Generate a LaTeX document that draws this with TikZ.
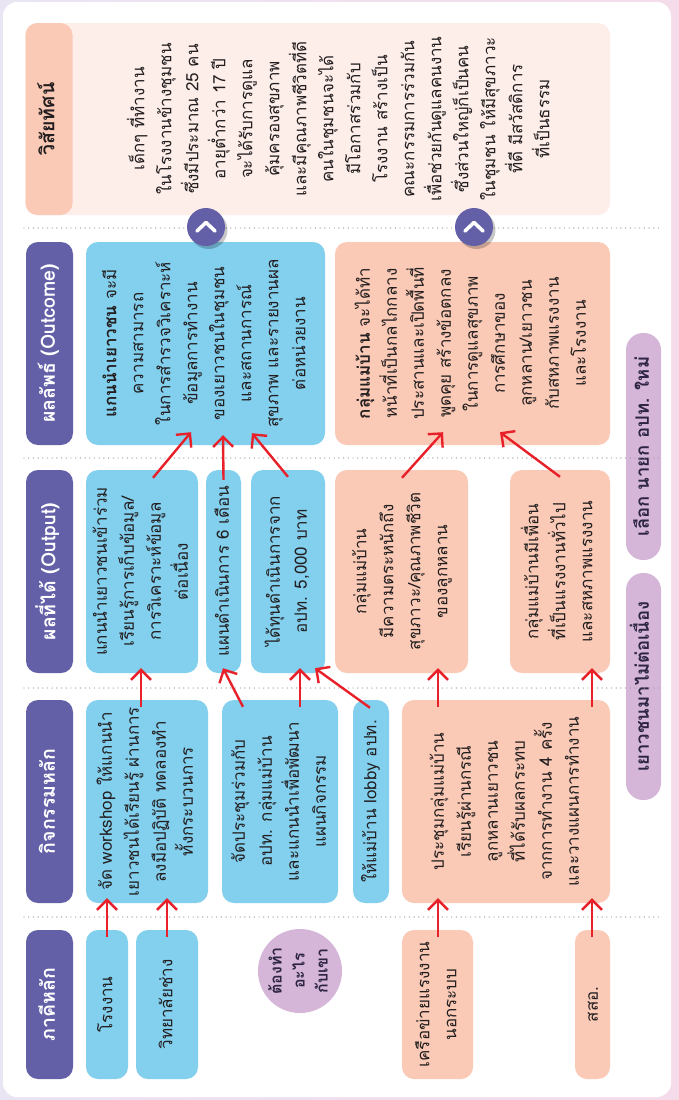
\documentclass[tikz,border=0pt]{standalone}
\usepackage{fontspec}
\setmainfont[Script=Thai]{Loma}
\usepackage{graphicx}
\usetikzlibrary{arrows.meta,calc}
\definecolor{hdr}{HTML}{6360A8}
\definecolor{bluebox}{HTML}{82CFEE}
\definecolor{salmon}{HTML}{FBCAB6}
\definecolor{lav}{HTML}{D5B6D8}
\definecolor{lavtxt}{HTML}{2E2545}
\definecolor{vispink}{HTML}{FDEEEA}
\definecolor{arrred}{HTML}{E8202A}
\definecolor{txt}{HTML}{231F20}
\definecolor{dotgray}{HTML}{A0A0A0}
\definecolor{bgl}{HTML}{E9E5F3}
\definecolor{bgr}{HTML}{F5DCEA}
\newcommand{\vt}[1]{\rotatebox{90}{\begin{tabular}{@{}c@{}}#1\end{tabular}}}
\tikzset{
  box/.style={rounded corners=12pt, inner sep=0pt, text=txt, font=\fontsize{17}{27}\selectfont},
  bluebx/.style={box, fill=bluebox},
  salbx/.style={box, fill=salmon},
  hdrbx/.style={rounded corners=12pt, fill=hdr, text=white, inner sep=0pt, minimum width=47pt, font=\bfseries\fontsize{19.5}{27}\selectfont},
  lavbx/.style={rounded corners=17pt, fill=lav, inner sep=0pt, text=lavtxt, minimum width=35pt, font=\bfseries\fontsize{18.5}{27}\selectfont},
  arr/.style={draw=arrred, line width=2.4pt, -{Straight Barb[length=10pt,width=20pt,line width=2.4pt]}},
  sep/.style={draw=dotgray, line width=1.4pt, dash pattern=on 0pt off 4.7pt, line cap=round},
  chev/.style={circle, fill=hdr, minimum size=38pt, inner sep=0pt},
}
\begin{document}
\begin{tikzpicture}[x=1pt,y=-1pt]
\useasboundingbox (0,0) rectangle (679,1100);
\fill[left color=bgl, right color=bgr] (0,0) rectangle (679,1100);
\fill[white, rounded corners=14pt] (3,2) rectangle (671,1097);

% vision
\fill[vispink, rounded corners=12pt] (25,23) rectangle (610,215);
\node[hdrbx, fill=salmon, text=txt, minimum height=192pt] (hV) at (49,119) {\vt{วิสัยทัศน์}};
\node[box] (vis) at (341.5,119) {\vt{เด็กๆ ที่ทำงาน\\ในโรงงานข้างชุมชน\\ซึ่งมีประมาณ 25 คน\\อายุต่ำกว่า 17 ปี\\จะได้รับการดูแล\\คุ้มครองสุขภาพ\\และมีคุณภาพชีวิตที่ดี\\คนในชุมชนจะได้\\มีโอกาสร่วมกับ\\โรงงาน สร้างเป็น\\คณะกรรมการร่วมกัน\\เพื่อช่วยกันดูแลคนงาน\\ซึ่งส่วนใหญ่ก็เป็นคน\\ในชุมชน ให้มีสุขภาวะ\\ที่ดี มีสวัสดิการ\\ที่เป็นธรรม}};

% headers
\node[hdrbx, minimum height=149pt] (hP) at (49.5,1004.5) {\vt{ภาคีหลัก}};
\node[hdrbx, minimum height=203pt] (hA) at (49.5,801.5) {\vt{กิจกรรมหลัก}};
\node[hdrbx, minimum height=203pt] (hO) at (49.5,571.5) {\vt{ผลที่ได้ (Output)}};
\node[hdrbx, minimum height=203pt] (hC) at (49.5,343.5) {\vt{ผลลัพธ์ (Outcome)}};

% partners
\node[bluebx, minimum width=42pt, minimum height=149pt] (p1) at (107,1004.5) {\vt{โรงงาน}};
\node[bluebx, minimum width=62pt, minimum height=149pt] (p2) at (167,1004.5) {\vt{วิทยาลัยช่าง}};
\node[circle, fill=lav, minimum size=84pt, inner sep=0pt, text=lavtxt, font=\bfseries\fontsize{16}{23}\selectfont] (q) at (300,971) {\vt{ต้องทำ\\อะไร\\กับเขา}};
\node[salbx, minimum width=71pt, minimum height=149pt] (p3) at (437.5,1004.5) {\vt{เครือข่ายแรงงาน\\นอกระบบ}};
\node[salbx, minimum width=35pt, minimum height=149pt] (p4) at (592.5,1004.5) {\vt{สสอ.}};

% activities
\node[bluebx, minimum width=122pt, minimum height=203pt] (a1) at (147,801.5) {\vt{จัด workshop ให้แกนนำ\\เยาวชนได้เรียนรู้ ผ่านการ\\ลงมือปฏิบัติ ทดลองทำ\\ทั้งกระบวนการ}};
\node[bluebx, minimum width=116pt, minimum height=203pt] (a2) at (280,801.5) {\vt{จัดประชุมร่วมกับ\\อปท. กลุ่มแม่บ้าน\\และแกนนำเพื่อพัฒนา\\แผนกิจกรรม}};
\node[bluebx, minimum width=36pt, minimum height=203pt] (a3) at (371,801.5) {\vt{ให้แม่บ้าน lobby อปท.}};
\node[salbx, minimum width=208pt, minimum height=203pt] (a4) at (506,801.5) {\vt{ประชุมกลุ่มแม่บ้าน\\เรียนรู้ผ่านกรณี\\ลูกหลานเยาวชน\\ที่ได้รับผลกระทบ\\จากการทำงาน 4 ครั้ง\\และวางแผนการทำงาน}};

% outputs
\node[bluebx, minimum width=112pt, minimum height=203pt] (o1) at (142,571.5) {\vt{แกนนำเยาวชนเข้าร่วม\\เรียนรู้การเก็บข้อมูล/\\การวิเคราะห์ข้อมูล\\ต่อเนื่อง}};
\node[bluebx, minimum width=35pt, minimum height=203pt] (o2) at (223.5,571.5) {\vt{แผนดำเนินการ 6 เดือน}};
\node[bluebx, minimum width=74pt, minimum height=203pt] (o3) at (288,571.5) {\vt{ได้ทุนดำเนินการจาก\\อปท. 5,000 บาท}};
\node[salbx, minimum width=133pt, minimum height=203pt] (o4) at (401.5,571.5) {\vt{กลุ่มแม่บ้าน\\มีความตระหนักถึง\\สุขภาวะ/คุณภาพชีวิต\\ของลูกหลาน}};
\node[salbx, minimum width=100pt, minimum height=203pt] (o5) at (560,571.5) {\vt{กลุ่มแม่บ้านมีเพื่อน\\ที่เป็นแรงงานทั่วไป\\และสหภาพแรงงาน}};

% outcomes
\node[bluebx, minimum width=239pt, minimum height=203pt] (c1) at (205.5,343.5) {\vt{\textbf{แกนนำเยาวชน} จะมี\\ความสามารถ\\ในการสำรวจวิเคราะห์\\ข้อมูลการทำงาน\\ของเยาวชนในชุมชน\\และสถานการณ์\\สุขภาพ และรายงานผล\\ต่อหน่วยงาน}};
\node[salbx, minimum width=275pt, minimum height=203pt] (c2) at (472.5,343.5) {\vt{\textbf{กลุ่มแม่บ้าน} จะได้ทำ\\หน้าที่เป็นกลไกกลาง\\ประสานและเปิดพื้นที่\\พูดคุย สร้างข้อตกลง\\ในการดูแลสุขภาพ\\การศึกษาของ\\ลูกหลาน/เยาวชน\\กับสหภาพแรงงาน\\และโรงงาน}};

% lavender notes
\node[lavbx, minimum height=227pt] (l1) at (643.5,686.5) {\vt{เยาวชนมาไม่ต่อเนื่อง}};
\node[lavbx, minimum height=227pt] (l2) at (643.5,446.5) {\vt{เลือก นายก อปท. ใหม่}};

% dotted separators
\coordinate (s1a) at (24,228); \coordinate (s1b) at (662,228);
\coordinate (s2a) at (24,458); \coordinate (s2b) at (662,458);
\coordinate (s3a) at (24,688); \coordinate (s3b) at (662,688);
\coordinate (s4a) at (24,917); \coordinate (s4b) at (662,917);
\draw[sep] (s1a) -- (s1b);
\draw[sep] (s2a) -- (s2b);
\draw[sep] (s3a) -- (s3b);
\draw[sep] (s4a) -- (s4b);

% chevron circles
\fill[black, opacity=0.22] (208.5,230) circle (19pt);
\fill[black, opacity=0.22] (476.5,230) circle (19pt);
\node[chev] (v1) at (206,227) {};
\node[chev] (v2) at (474,227) {};
\foreach \v in {v1,v2}{
  \draw[white, line width=3.6pt, line cap=round, line join=round]
    ([shift={(-9pt,-4pt)}]\v.center) -- ([yshift=4.5pt]\v.center) -- ([shift={(9pt,-4pt)}]\v.center);
}

% arrows partners -> activities
\draw[arr] ([yshift=-7pt]p1.north) -- ([xshift=-40pt,yshift=5pt]a1.south);
\draw[arr] ([yshift=-7pt]p2.north) -- ([xshift=20pt,yshift=5pt]a1.south);
\draw[arr] ([xshift=0.5pt,yshift=-7pt]p3.north) -- ([xshift=-68pt,yshift=5pt]a4.south);
\draw[arr] ([xshift=-0.5pt,yshift=-7pt]p4.north) -- ([xshift=86pt,yshift=5pt]a4.south);

% activities -> outputs
\draw[arr] ([xshift=-6pt,yshift=-7pt]a1.north) -- ([xshift=-1pt,yshift=5pt]o1.south);
\draw[arr] ([xshift=-37pt,yshift=-7pt]a2.north) -- ([xshift=-0.5pt,yshift=5pt]o2.south);
\draw[arr] ([xshift=20pt,yshift=-7pt]a2.north) -- ([xshift=12pt,yshift=5pt]o3.south);
\draw[arr] ([xshift=-1pt,yshift=-8pt]a3.north) -- ([xshift=27pt,yshift=5pt]o3.south);
\draw[arr] ([xshift=-68pt,yshift=-7pt]a4.north) -- ([xshift=36.5pt,yshift=5pt]o4.south);
\draw[arr] ([xshift=86pt,yshift=-7pt]a4.north) -- ([xshift=32pt,yshift=5pt]o5.south);

% outputs -> outcomes
\draw[arr] ([xshift=11pt,yshift=-8pt]o1.north) -- ([xshift=-14.5pt,yshift=13pt]c1.south);
\draw[arr] ([yshift=-10pt]o2.north) -- ([xshift=17.5pt,yshift=10pt]c1.south);
\draw[arr] ([yshift=-7pt]o3.north) -- ([xshift=46.5pt,yshift=12pt]c1.south);
\draw[arr] ([xshift=0.5pt,yshift=-8pt]o4.north) -- ([xshift=-29.5pt,yshift=13pt]c2.south);
\draw[arr] ([yshift=-7pt]o5.north) -- ([xshift=27.5pt,yshift=13pt]c2.south);
\end{tikzpicture}
\end{document}
